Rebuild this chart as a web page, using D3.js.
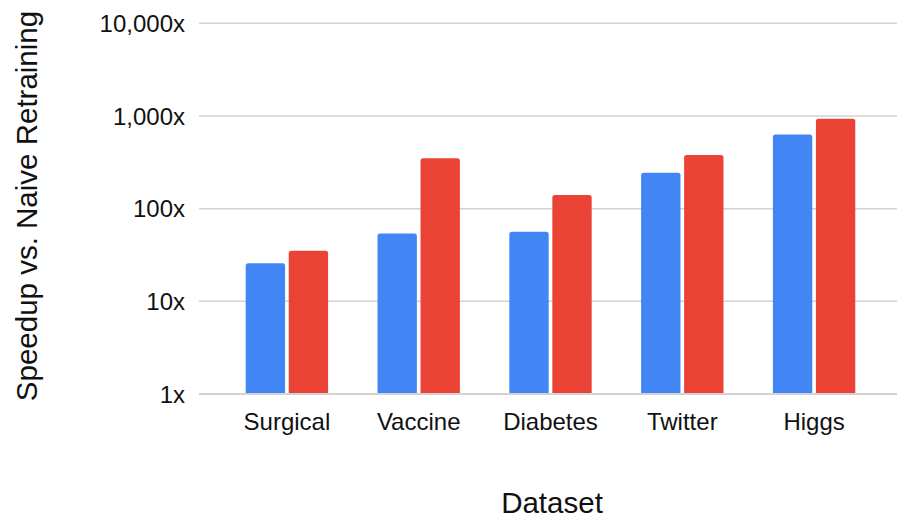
<!DOCTYPE html>
<html>
<head>
<meta charset="utf-8">
<script src="https://cdn.jsdelivr.net/npm/d3@7"></script>
<style>
  html, body { margin: 0; padding: 0; background: #fff; }
  svg { display: block; font-family: Arial, "Liberation Sans", sans-serif; }
</style>
</head>
<body>
<svg id="chart" width="899" height="520"></svg>
<script>
// Speedup of each method over naive retraining, per dataset
const datasets = ["Surgical", "Vaccine", "Diabetes", "Twitter", "Higgs"];
const seriesNames = ["Method A", "Method B"];
const seriesA = [25.7, 54, 56.5, 244, 630];
const seriesB = [35.2, 349, 140, 379, 935];
const tickValues = [1, 10, 100, 1000, 10000];
const tickLabels = ["1x", "10x", "100x", "1,000x", "10,000x"];
const colors = ["#4285F4", "#EA4335"];

const svg = d3.select("#chart");

const gridLeft = 199, gridRight = 897;
const y = d3.scaleLog().domain([1, 10000]).range([394, 23.3]);

const x0 = d3.scaleBand().domain(datasets).range([221, 880])
  .paddingInner(0.375).paddingOuter(0.1875);
const x1 = d3.scaleBand().domain(seriesNames).range([0, x0.bandwidth()])
  .paddingInner(0.085);

// horizontal gridlines
svg.append("g").selectAll("line").data(tickValues).join("line")
  .attr("x1", gridLeft).attr("x2", gridRight)
  .attr("y1", d => y(d)).attr("y2", d => y(d))
  .attr("stroke", d => d === 1 ? "#c4c4c4" : "#d2d2d2")
  .attr("stroke-width", 1.5);

// y tick labels
svg.append("g").selectAll("text").data(tickValues).join("text")
  .attr("x", 185).attr("y", d => y(d)).attr("dy", "0.36em")
  .attr("text-anchor", "end")
  .attr("font-size", 24).attr("fill", "#111")
  .text((d, i) => tickLabels[i]);

// bar with rounded top corners
function barPath(x, w, top, bottom, r) {
  r = Math.min(r, w / 2, bottom - top);
  return `M${x},${bottom}V${top + r}Q${x},${top} ${x + r},${top}` +
         `H${x + w - r}Q${x + w},${top} ${x + w},${top + r}V${bottom}Z`;
}

const rows = datasets.map((d, i) => ({ name: d, values: [seriesA[i], seriesB[i]] }));

const groups = svg.append("g").selectAll("g").data(rows).join("g")
  .attr("transform", d => `translate(${x0(d.name)},0)`);

groups.selectAll("path").data(d => d.values.map((v, j) => ({ v, j }))).join("path")
  .attr("d", d => barPath(x1(seriesNames[d.j]), x1.bandwidth(), y(d.v), y(1) - 1, 2.5))
  .attr("fill", d => colors[d.j]);

// category labels
svg.append("g").selectAll("text").data(datasets).join("text")
  .attr("x", d => x0(d) + x0.bandwidth() / 2).attr("y", 430)
  .attr("text-anchor", "middle")
  .attr("font-size", 24).attr("fill", "#111")
  .text(d => d);

// axis titles
svg.append("text")
  .attr("x", 552).attr("y", 513)
  .attr("text-anchor", "middle")
  .attr("font-size", 29.5).attr("fill", "#111")
  .text("Dataset");

svg.append("text")
  .attr("transform", "translate(37,206) rotate(-90)")
  .attr("text-anchor", "middle")
  .attr("font-size", 29.5).attr("fill", "#111")
  .text("Speedup vs. Naive Retraining");
</script>
</body>
</html>
